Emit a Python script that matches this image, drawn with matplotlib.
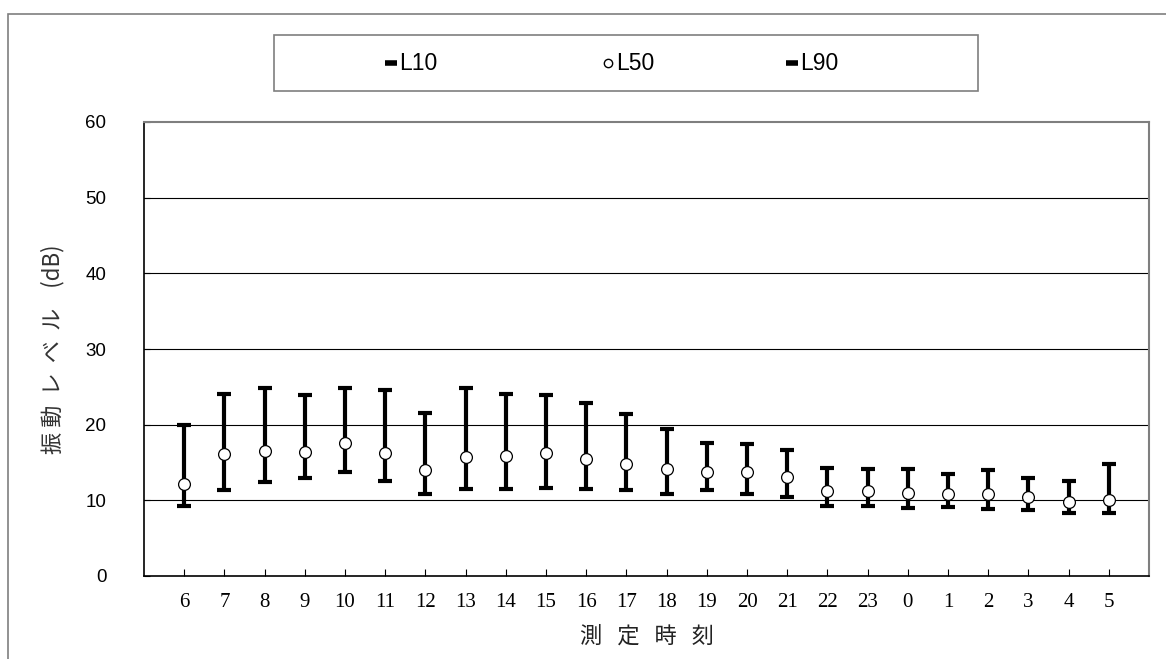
import matplotlib
matplotlib.use("Agg")
import matplotlib.pyplot as plt
from matplotlib.lines import Line2D
from matplotlib.patches import Rectangle
import numpy as np

# measurement hours and vibration levels (dB)
hours = ["6", "7", "8", "9", "10", "11", "12", "13", "14", "15", "16", "17",
         "18", "19", "20", "21", "22", "23", "0", "1", "2", "3", "4", "5"]
L10 = [20.0, 24.1, 24.8, 23.9, 24.9, 24.6, 21.5, 24.9, 24.1, 23.9, 22.8, 21.4,
       19.4, 17.6, 17.4, 16.6, 14.3, 14.2, 14.1, 13.5, 14.0, 12.9, 12.5, 14.8]
L50 = [12.2, 16.1, 16.5, 16.4, 17.6, 16.3, 14.0, 15.7, 15.8, 16.2, 15.4, 14.8,
       14.1, 13.7, 13.7, 13.1, 11.2, 11.2, 11.0, 10.9, 10.9, 10.4, 9.8, 10.1]
L90 = [9.3, 11.4, 12.4, 12.9, 13.7, 12.6, 10.8, 11.5, 11.5, 11.6, 11.5, 11.3,
       10.8, 11.3, 10.9, 10.4, 9.2, 9.3, 9.0, 9.1, 8.9, 8.7, 8.3, 8.3]

jp = ["Noto Sans CJK JP", "DejaVu Sans"]
sans = ["Liberation Sans", "DejaVu Sans"]
serif = ["Liberation Serif", "DejaVu Serif"]

W, H = 1166, 659
fig = plt.figure(figsize=(W / 100, H / 100), dpi=100)

# outer frame
fig.add_artist(Rectangle((8 / W, -0.1), 1.2, 1.1 - 14 / H, transform=fig.transFigure,
                         fill=False, edgecolor="#7f7f7f", linewidth=1.2))

ax = fig.add_axes([144 / W, 1 - 576 / H, 1005 / W, 454 / H])

x = np.arange(1, len(hours) + 1)
l10 = np.array(L10)
l50 = np.array(L50)
l90 = np.array(L90)

ax.errorbar(x, l50, yerr=[l50 - l90, l10 - l50], fmt="none", ecolor="black",
            elinewidth=3, capsize=5, capthick=3, zorder=3)
ax.plot(x, l50, "o", ms=8.5, mfc="white", mec="black", mew=0.9, zorder=4)

ax.set_xlim(0, len(hours) + 1)
ax.set_ylim(0, 60)
ax.set_yticks(range(0, 61, 10))
ax.set_xticks(x)
ax.set_xticklabels(hours, family=serif, fontsize=15)
for lab in ax.get_yticklabels():
    lab.set_family(sans)
    lab.set_fontsize(13.5)
ax.tick_params(axis="x", direction="in", length=5, pad=12, width=0.8)
ax.tick_params(axis="y", direction="in", length=4, pad=27, width=0.8)

for v in range(10, 60, 10):
    ax.axhline(v, color="black", linewidth=0.8, zorder=1)

for s in ["left", "bottom"]:
    ax.spines[s].set_color("black")
    ax.spines[s].set_linewidth(1.2)
for s in ["top", "right"]:
    ax.spines[s].set_color("#7f7f7f")
    ax.spines[s].set_linewidth(1.5)

ax.set_xlabel("測   定   時   刻", family=jp, fontsize=16, color="#222222")
ax.xaxis.set_label_coords(0.5, (576 - 625) / 454)
ax.set_ylabel("振 動  レ  ベ  ル    (dB)", family=jp, fontsize=16, color="#333333")
ax.yaxis.set_label_coords((64 - 144) / 1005, 0.5)

# legend box drawn by hand
fig.add_artist(Rectangle((274 / W, 1 - 91 / H), 704 / W, 56 / H, transform=fig.transFigure,
                         fill=False, edgecolor="#7f7f7f", linewidth=1.2))
ly = 1 - 63 / H
items = [("L10", "_", 391), ("L50", "o", 608), ("L90", "_", 792)]
for name, mk, px in items:
    if mk == "o":
        fig.add_artist(Line2D([px / W], [ly], marker="o", ms=6, mfc="white", mec="black",
                              mew=1.0, linestyle="none", transform=fig.transFigure))
    else:
        fig.add_artist(Line2D([px / W], [ly], marker="_", ms=8, mew=4, color="black",
                              linestyle="none", transform=fig.transFigure))
    fig.text((px + 8) / W, ly, name, family=sans, fontsize=16.5, va="center", ha="left")

fig.savefig("out.png", dpi=100)
